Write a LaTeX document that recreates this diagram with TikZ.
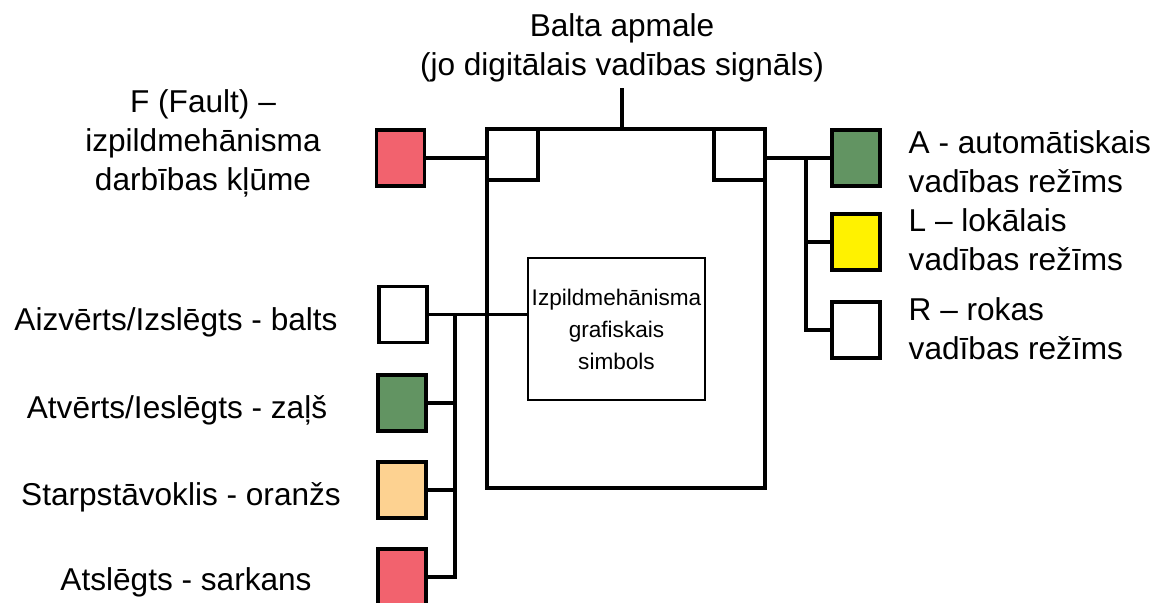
\documentclass[tikz,border=0pt]{standalone}
\usepackage{fontspec}
\setmainfont{Liberation Sans}
\usepackage{tikz}
\usetikzlibrary{calc}

\definecolor{faultred}{RGB}{242,98,110}
\definecolor{lampgreen}{RGB}{98,148,98}
\definecolor{lampyellow}{RGB}{255,242,0}
\definecolor{lamporange}{RGB}{253,210,145}

\begin{document}
\begin{tikzpicture}[x=0.5pt, y=-0.5pt, line width=1.7pt,
	lamp/.style={draw, line width=1.7pt, minimum width=24pt, minimum height=28pt, inner sep=0pt},
	corner/.style={draw, line width=1.7pt, minimum size=25.5pt, inner sep=0pt},
	lbl/.style={font=\fontsize{15.8}{19.5}\selectfont, inner sep=0pt, align=center},
	rlbl/.style={lbl, align=left, anchor=west}]
	\useasboundingbox (0,0) rectangle (1166,602);

	% main frame with its corner squares
	\node[draw, line width=1.7pt, minimum width=139pt, minimum height=179.5pt, inner sep=0pt] (frame) at (626,308.5) {};
	\node[corner, anchor=north west] (cF) at (frame.north west) {};
	\node[corner, anchor=north east] (cA) at (frame.north east) {};
	\node[draw, line width=0.9pt, minimum width=88.5pt, minimum height=71pt, inner sep=0pt,
		font=\fontsize{11.3}{16}\selectfont, align=center] (sym) at (616.5,329)
		{Izpildmehānisma\\grafiskais\\simbols};

	% signal
	\node[lbl] (sigtxt) at (622,48) {Balta apmale\\(jo digitālais vadības signāls)};
	\coordinate (sig) at (622,88);
	\draw (sig) -- (sig |- frame.north);

	% fault
	\node[lamp, fill=faultred] (flt) at (400.5,158) {};
	\node[lbl] (flttxt) at (203,143) {F (Fault) –\\izpildmehānisma\\darbības kļūme};
	\draw (flt.east) -- (flt.east -| frame.west);

	% modes
	\node[lamp, fill=lampgreen] (modeA) at (856,158) {};
	\node[lamp, fill=lampyellow] (modeL) at (856,242) {};
	\node[lamp, fill=white] (modeR) at (856,330) {};
	\node[rlbl] (txtA) at (907,162) {A - automātiskais\\vadības režīms};
	\node[rlbl] (txtL) at (907,240) {L – lokālais\\vadības režīms};
	\node[rlbl] (txtR) at (907,329) {R – rokas\\vadības režīms};
	\coordinate (rbus) at (806,158);
	\draw (frame.east |- modeA.west) -- (modeA.west);
	\draw (rbus) |- (modeL.west);
	\draw (rbus) |- (modeR.west);

	% states
	\node[lamp, fill=white] (stClosed) at (403,314.5) {};
	\node[lamp, fill=lampgreen] (stOpen) at (402,403) {};
	\node[lamp, fill=lamporange] (stMid) at (402,490) {};
	\node[lamp, fill=faultred] (stOff) at (402,577) {};
	\node[lbl] (txtClosed) at (176,322) {Aizvērts/Izslēgts - balts};
	\node[lbl] (txtOpen) at (177,410) {Atvērts/Ieslēgts - zaļš};
	\node[lbl] (txtMid) at (181,497) {Starpstāvoklis - oranžs};
	\node[lbl] (txtOff) at (186,582) {Atslēgts - sarkans};
	\coordinate (lbus) at (455,314.5);
	\draw (stClosed.east) -- (stClosed.east -| sym.west);
	\draw (lbus) |- (stOpen.east);
	\draw (lbus) |- (stMid.east);
	\draw (lbus) |- (stOff.east);
\end{tikzpicture}
\end{document}
